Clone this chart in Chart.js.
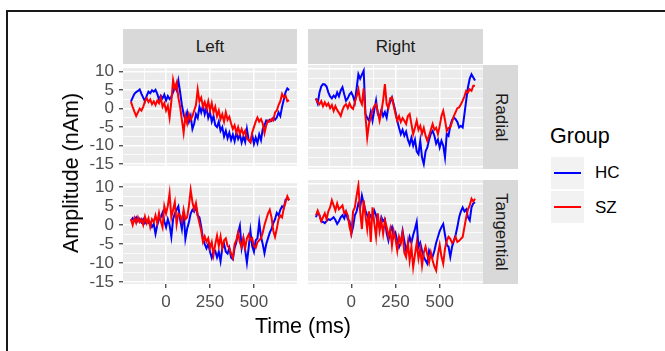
<!DOCTYPE html>
<html><head><meta charset="utf-8">
<script src="https://cdn.jsdelivr.net/npm/chart.js@4.4.0/dist/chart.umd.min.js"></script>
<style>
html,body{margin:0;padding:0;background:#fff;}
#wrap{position:relative;width:665px;height:351px;overflow:hidden;font-family:"Liberation Sans",Arial,sans-serif;}
#wrap canvas{position:absolute;}
.frame{position:absolute;left:6px;top:10px;width:700px;height:400px;border-left:2px solid #1a1a1a;border-top:2px solid #1a1a1a;}
.strip{position:absolute;background:#D9D9D9;color:#1A1A1A;font-size:17px;display:flex;align-items:center;justify-content:center;}
.vt{writing-mode:vertical-rl;}
.title{position:absolute;font-size:21.5px;line-height:24px;color:#000;white-space:nowrap;}
.key{position:absolute;left:551px;width:33px;height:32px;background:#F2F2F2;}
.keyline{position:absolute;left:3px;width:27px;height:2px;top:15px;}
.ltext{position:absolute;left:595px;font-size:17px;line-height:20px;color:#000;}
</style></head>
<body>
<div id="wrap">
  <div class="frame"></div>
  <div class="strip" style="left:123px;top:29px;width:174px;height:35px;">Left</div>
  <div class="strip" style="left:308px;top:29px;width:175px;height:35px;">Right</div>
  <div class="strip" style="left:483px;top:65px;width:35px;height:104px;"><span class="vt">Radial</span></div>
  <div class="strip" style="left:483px;top:180px;width:35px;height:104px;"><span class="vt">Tangential</span></div>
  <canvas id="c00"></canvas><canvas id="c01"></canvas><canvas id="c10"></canvas><canvas id="c11"></canvas>
  <div class="title" style="left:71px;top:173px;transform:translate(-50%,-50%) rotate(-90deg);">Amplitude (nAm)</div>
  <div class="title" style="left:303px;top:314px;transform:translateX(-50%);">Time (ms)</div>
  <div class="title" style="left:550px;top:124px;">Group</div>
  <div class="key" style="top:157px;"><div class="keyline" style="background:#0000FF;"></div></div>
  <div class="key" style="top:191px;"><div class="keyline" style="background:#FF0000;"></div></div>
  <div class="ltext" style="top:163px;">HC</div>
  <div class="ltext" style="top:198px;">SZ</div>
</div>
<script>
// ---- data ----
const times = [-200,-190,-180,-170,-160,-150,-140,-130,-120,-110,
 -100,-90,-80,-70,-60,-50,-40,-30,-20,-10,
 0,10,20,30,40,50,60,70,80,90,
 100,110,120,130,140,150,160,170,180,190,
 200,210,220,230,240,250,260,270,280,290,
 300,310,320,330,340,350,360,370,380,390,
 400,410,420,430,440,450,460,470,480,490,
 500,510,520,530,540,550,560,570,580,590,
 600,610,620,630,640,650,660,670,680,690,
 700];

const leftRadialHC = [1.9,3.0,4.0,4.5,4.8,5.2,4.0,3.0,2.0,3.5,
 4.6,4.2,5.0,4.6,5.1,4.0,2.5,3.5,2.8,3.8,
 2.2,3.4,2.6,3.2,4.5,6.0,5.0,7.6,4.5,1.0,
 -1.5,-3.0,-1.0,-3.5,-2.0,-5.5,-4.0,-1.5,-2.5,0.5,
 -1.0,0.8,-1.5,0.2,-2.5,-1.0,-3.5,-2.0,-4.5,-5.0,
 -3.5,-6.0,-5.0,-7.5,-6.0,-8.0,-6.5,-8.5,-7.0,-8.8,
 -6.5,-8.2,-7.0,-9.2,-7.5,-9.0,-5.5,-8.5,-9.0,-7.0,
 -9.5,-7.8,-9.3,-7.0,-8.5,-5.5,-4.5,-3.2,-3.5,-3.0,
 -3.3,-2.5,-3.0,-2.4,-1.0,-2.0,0.5,2.5,4.5,5.5,
 5.0];
const leftRadialSZ = [1.9,0.5,-0.8,-2.0,-1.0,0.0,-0.5,0.5,2.0,2.8,
 1.8,2.5,1.2,2.0,1.0,2.2,1.5,3.0,0.5,1.5,
 -0.5,0.8,-2.4,2.0,7.8,5.5,7.0,3.0,0.5,-3.0,
 -6.5,-2.0,-4.0,-1.5,-3.0,-2.0,-0.5,1.0,5.2,2.0,
 3.0,0.5,1.8,0.0,2.0,-0.5,1.5,-1.0,0.5,-2.0,
 -0.5,-2.8,-1.5,-3.5,-1.0,-3.0,-2.2,-4.0,-5.5,-4.5,
 -6.5,-5.0,-6.8,-5.5,-7.0,-6.0,-8.0,-8.5,-9.1,-6.5,
 -5.0,-3.5,-2.4,-3.5,-2.8,-4.0,-6.6,-4.5,-3.2,-3.5,
 -2.8,-3.2,-1.0,-0.5,1.0,2.0,4.0,3.0,3.5,2.0,
 2.3];
const rightRadialHC = [2.5,1.2,4.0,5.5,6.1,6.0,5.5,4.0,3.0,2.5,
 3.2,2.7,4.0,3.0,4.5,5.3,3.5,1.9,2.5,3.5,
 4.0,3.0,1.5,5.0,8.6,7.5,8.5,9.5,-1.5,-2.5,
 -3.2,-1.0,-3.2,-0.5,1.9,-1.5,-2.4,-0.5,-2.0,-1.0,
 -2.4,0.5,1.5,2.7,1.0,-1.0,-3.2,-5.0,-6.6,-5.5,
 -7.0,-6.0,-8.0,-9.2,-7.5,-9.5,-8.0,-11.0,-11.7,-8.3,
 -12.5,-14.2,-11.0,-10.0,-8.0,-6.5,-5.8,-7.0,-9.0,-8.0,
 -10.0,-8.3,-9.5,-12.5,-6.5,-7.0,-4.5,-3.0,-2.4,-2.8,
 -3.5,-4.9,-4.5,-4.9,-1.5,2.0,5.3,7.5,8.6,7.8,
 7.0];
const rightRadialSZ = [2.5,1.5,1.0,1.8,0.5,1.5,0.6,1.2,0.0,0.8,
 -0.7,0.5,-0.5,-1.2,-2.0,-0.5,0.5,1.0,0.0,1.2,
 0.2,-0.2,1.5,3.0,4.8,2.0,1.0,5.0,-2.0,-7.5,
 -4.0,-2.4,-0.5,0.5,1.0,-1.0,-3.2,-1.0,2.0,6.1,
 1.0,0.0,2.5,2.7,0.5,-1.5,-3.2,-2.0,-3.5,-2.5,
 -3.2,-4.0,-2.0,-1.5,-4.0,-6.6,-5.0,-3.2,-5.5,-4.5,
 -6.5,-5.0,-7.0,-8.3,-7.0,-5.5,-4.0,-5.5,-5.0,-6.6,
 -4.5,-2.0,-0.7,-3.0,-5.8,-5.0,-4.9,-3.5,-2.0,-1.0,
 0.0,0.2,1.0,1.9,3.0,4.4,4.0,4.8,4.4,5.7,
 5.7];
const leftTangHC = [1.1,1.8,1.2,2.0,1.0,1.6,0.7,1.5,0.5,1.2,
 0.5,0.7,-0.5,0.3,-2.3,0.0,1.5,2.0,3.2,1.0,
 -0.6,1.5,0.0,-3.1,1.5,3.0,4.0,4.9,1.5,-1.0,
 3.5,-3.6,-1.0,0.7,3.0,4.0,3.5,4.9,2.5,2.0,
 -0.5,-3.6,-5.0,-6.1,-5.0,-7.0,-8.6,-7.0,-6.8,-8.5,
 -7.0,-9.5,-6.0,-5.0,-7.0,-7.5,-6.0,-8.5,-9.0,-6.0,
 -4.5,-2.0,-0.2,-6.0,-3.5,-6.5,-9.9,-6.0,-1.5,-5.5,
 -7.0,-4.0,-3.5,0.7,-3.0,-5.0,-7.4,-5.0,-3.5,-2.0,
 -1.0,0.5,1.5,3.2,2.5,4.0,4.9,4.5,6.6,7.0,
 6.5];
const leftTangSZ = [1.5,0.0,1.8,0.5,2.0,0.8,1.5,0.0,2.2,0.5,
 1.8,-0.5,1.5,0.8,2.5,0.5,3.2,1.0,-0.6,4.9,
 3.0,5.0,8.3,2.0,4.0,6.0,0.2,3.0,2.5,1.0,
 4.0,1.5,2.0,5.0,9.2,6.0,4.0,5.7,2.5,0.5,
 -1.5,-4.4,-3.0,-4.4,-3.5,-6.0,-4.5,-7.8,-5.0,-2.8,
 -5.5,-3.0,-6.0,-4.0,-3.5,-5.5,-6.0,-7.5,-8.6,-5.0,
 -4.0,-2.0,-4.5,-5.8,-3.5,-6.0,-3.5,-2.5,-4.0,-3.5,
 -5.5,-6.0,-4.5,-4.0,-3.5,-2.0,0.0,1.5,3.0,4.0,
 2.0,-1.5,-3.1,-1.0,1.5,2.5,2.0,4.5,6.0,7.5,
 6.5];
const rightTangHC = [1.5,2.8,2.0,0.5,0.3,0.0,0.5,1.0,0.8,1.1,
 1.5,0.8,-0.2,0.5,1.5,2.0,1.2,2.8,1.0,0.5,
 -2.7,-1.0,2.0,3.0,5.0,4.0,7.0,5.0,3.2,2.0,
 1.0,2.0,1.5,3.2,2.0,0.0,-1.0,1.5,0.5,1.0,
 -2.5,-4.4,-2.0,-1.0,-3.5,-2.5,-4.5,-6.1,-5.0,-2.0,
 -4.5,-7.0,-5.5,-3.5,-5.0,-3.0,-1.5,0.3,-6.1,-5.0,
 -7.0,-8.5,-9.5,-10.3,-7.0,-8.0,-8.5,-7.0,-5.0,-3.5,
 -2.0,-1.0,-0.2,-3.0,-5.5,-6.0,-8.6,-6.0,-4.5,-3.0,
 -1.0,1.5,3.0,4.0,3.0,3.5,1.5,0.7,4.0,5.0,
 5.3];
const rightTangSZ = [2.0,3.2,2.0,0.5,1.5,2.5,1.0,3.0,4.0,5.8,
 4.5,3.2,5.0,3.5,4.0,4.5,2.5,3.0,2.0,-1.0,
 -2.7,3.0,4.0,7.0,9.6,3.0,-1.5,5.8,2.0,-1.5,
 3.0,-4.8,4.0,0.0,-3.5,2.5,-2.0,0.5,-2.7,0.7,
 -1.0,-3.5,-1.5,-5.7,-2.0,-4.0,-7.0,-3.5,-5.0,-2.5,
 -7.5,-8.6,-5.0,-9.5,-6.0,-11.2,-8.0,-5.0,-9.0,-6.5,
 -10.8,-7.5,-6.0,-8.0,-10.0,-7.5,-9.5,-11.0,-12.0,-8.0,
 -5.5,-8.5,-10.3,-6.5,-4.5,-3.5,-4.0,-5.0,-4.5,-3.5,
 -4.8,-4.5,-4.0,-3.5,-1.0,1.5,3.5,4.5,6.2,5.5,
 6.2];

const xTicks = [-125,0,125,250,375,500,625];
const xMajor = [0,250,500];
const yTicks = [-15,-12.5,-10,-7.5,-5,-2.5,0,2.5,5,7.5,10];
const yMajor = [-15,-10,-5,0,5,10];
const groups = ['HC','SZ'];
const colors = {HC:'#0000FF', SZ:'#FF0000'};

// ---- drawing ----
const FONT = '"Liberation Sans", Arial, sans-serif';
const bgPlugin = {id:'panelbg', beforeDraw(c){const a=c.chartArea;const x=c.ctx;x.save();x.fillStyle='#EBEBEB';x.fillRect(a.left,a.top,a.right-a.left,a.bottom-a.top);x.restore();}};

function panel(id, left, top, w, h, hc, sz, showY, showX){
  const yW = showY ? 60 : 0, xH = showX ? 30 : 0;
  const cv = document.getElementById(id);
  const cw = yW + w, ch = 12 + h + (showX ? xH : 12);
  cv.width = cw; cv.height = ch;
  cv.style.left = (left - yW) + 'px'; cv.style.top = (top - 12) + 'px';
  cv.style.width = cw + 'px'; cv.style.height = ch + 'px';
  const pts = arr => arr.map((v,i)=>({x:times[i], y:v}));
  new Chart(cv, {
    type:'line',
    data:{datasets:[
      {label:'SZ', data:pts(sz), borderColor:colors.SZ, borderWidth:2, pointRadius:0, tension:0},
      {label:'HC', data:pts(hc), borderColor:colors.HC, borderWidth:2, pointRadius:0, tension:0}
    ]},
    options:{
      responsive:false, animation:false, events:[],
      layout:{padding:{top:12, bottom: showX ? 0 : 12, left:0, right:0}},
      plugins:{legend:{display:false}, tooltip:{enabled:false}},
      scales:{
        x:{type:'linear', min:-245, max:745,
          afterBuildTicks:s=>{s.ticks = xTicks.map(v=>({value:v}));},
          afterFit:s=>{s.height = xH;},
          border:{display:false},
          grid:{color:'#FFFFFF', lineWidth:c=> xMajor.includes(c.tick && c.tick.value) ? 1.5 : 0.8,
                drawTicks:showX, tickLength:4, tickWidth:1.2,
                tickColor:c=> xMajor.includes(c.tick && c.tick.value) ? '#333333' : 'rgba(0,0,0,0)'},
          ticks:{display:showX, autoSkip:false, maxRotation:0, minRotation:0, padding:4, color:'#4D4D4D',
                 font:{family:FONT, size:17}, callback:v=> xMajor.includes(v) ? String(v) : ''}
        },
        y:{type:'linear', min:-15.46, max:10.96,
          afterBuildTicks:s=>{s.ticks = yTicks.map(v=>({value:v}));},
          afterFit:s=>{s.width = yW;},
          border:{display:false},
          grid:{color:'#FFFFFF', lineWidth:c=> yMajor.includes(c.tick && c.tick.value) ? 1.5 : 0.8,
                drawTicks:showY, tickLength:4, tickWidth:1.2,
                tickColor:c=> yMajor.includes(c.tick && c.tick.value) ? '#333333' : 'rgba(0,0,0,0)'},
          ticks:{display:showY, autoSkip:false, padding:5, color:'#4D4D4D',
                 font:{family:FONT, size:17}, callback:v=> yMajor.includes(v) ? String(v) : ''}
        }
      }
    },
    plugins:[bgPlugin]
  });
}
panel('c00', 123, 65, 174, 104, leftRadialHC, leftRadialSZ, true, false);
panel('c01', 308, 65, 175, 104, rightRadialHC, rightRadialSZ, false, false);
panel('c10', 123, 180, 174, 104, leftTangHC, leftTangSZ, true, true);
panel('c11', 308, 180, 175, 104, rightTangHC, rightTangSZ, false, true);
</script>
</body></html>
